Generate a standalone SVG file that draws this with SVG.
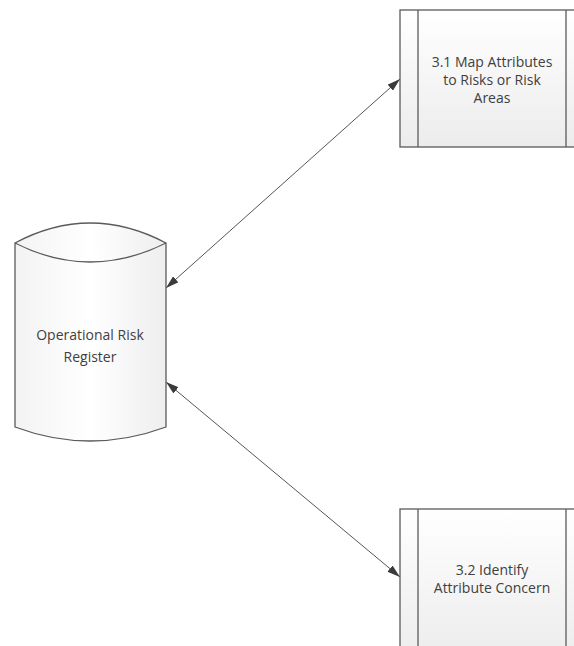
<svg xmlns="http://www.w3.org/2000/svg" width="574" height="646" viewBox="0 0 574 646">
<style>
.shape{stroke:#5a5a5a;stroke-width:1.3;}
.lbl{font-family:"Open Sans","Liberation Sans",sans-serif;font-size:14px;fill:#404040;text-anchor:middle;}
.conn{stroke:#555;stroke-width:1;fill:none;}
</style>
<defs>
<linearGradient id="g" x1="0" y1="0" x2="0" y2="1">
<stop offset="0" stop-color="#ffffff"/>
<stop offset="1" stop-color="#ececec"/>
</linearGradient>
<linearGradient id="gc" x1="0" y1="0" x2="1" y2="0">
<stop offset="0" stop-color="#f3f3f3"/>
<stop offset="0.5" stop-color="#ffffff"/>
<stop offset="1" stop-color="#eeeeee"/>
</linearGradient>
<marker id="ah" viewBox="0 0 13 8" refX="13" refY="4" markerWidth="13" markerHeight="8" markerUnits="userSpaceOnUse" orient="auto-start-reverse">
<path d="M0,0 L13,4 L0,8 Z" fill="#3a3a3a"/>
</marker>
</defs>
<rect width="574" height="646" fill="#ffffff"/>
<g id="connectors">
<line class="conn" x1="166" y1="288" x2="400" y2="79" marker-start="url(#ah)" marker-end="url(#ah)"/>
<line class="conn" x1="166" y1="382" x2="400" y2="577" marker-start="url(#ah)" marker-end="url(#ah)"/>
</g>
<g id="register">
<path class="shape" fill="url(#gc)" d="M15,243 Q90,203 166,243 L166,427 Q90,455 15,427 Z"/>
<path class="shape" fill="none" d="M15,243 Q90,281 166,243"/>
<text class="lbl" x="90" y="340">Operational Risk</text>
<text class="lbl" x="90" y="362">Register</text>
</g>
<g id="process31">
<rect class="shape" x="400" y="10" width="190" height="137" fill="url(#g)"/>
<line class="shape" x1="418" y1="10" x2="418" y2="147"/>
<line class="shape" x1="566" y1="10" x2="566" y2="147"/>
<text class="lbl" x="492" y="67">3.1 Map Attributes</text>
<text class="lbl" x="492" y="85">to Risks or Risk</text>
<text class="lbl" x="492" y="103">Areas</text>
</g>
<g id="process32">
<rect class="shape" x="400" y="509" width="190" height="150" fill="url(#g)"/>
<line class="shape" x1="418" y1="509" x2="418" y2="659"/>
<line class="shape" x1="566" y1="509" x2="566" y2="659"/>
<text class="lbl" x="492" y="575">3.2 Identify</text>
<text class="lbl" x="492" y="593">Attribute Concern</text>
</g>
</svg>
